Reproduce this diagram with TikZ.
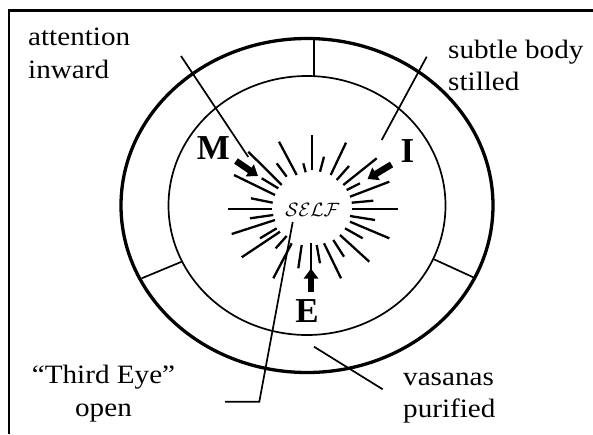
\documentclass[tikz,border=0pt]{standalone}
\usepackage{fontspec}
\setmainfont{Liberation Serif}
\usetikzlibrary{arrows.meta}
\newcommand\wide[1]{\scalebox{1.1}[1]{#1}}
\begin{document}
\begin{tikzpicture}[x=1pt,y=-1pt,
  lbl/.style={inner sep=0pt, anchor=base west, font=\fontsize{26.5}{32}\selectfont},
  big/.style={inner sep=0pt, font=\fontsize{35}{40}\selectfont\bfseries},
  ray/.style={line width=2.3pt},
  leader/.style={line width=1.7pt},
  thin/.style={line width=1.7pt},
  fat/.style={line width=6.5pt, -{Triangle[width=14pt,length=10pt]}},
]
\useasboundingbox (0,0) rectangle (593,434);
% frame
\draw[line width=2.6pt] (9,434) -- (9,10.5) -- (593,10.5);
% ellipses
\coordinate (c) at (307,205.5);
\draw[line width=3.3pt] (c) ellipse [x radius=186pt, y radius=167pt];
\draw[thin] (c) ellipse [x radius=138.5pt, y radius=129.5pt];
% dividers
\draw[thin] (314,38.5) -- (314,76);
\draw[thin] (141.7,278.3) -- (181.7,261.7);
\draw[thin] (434,259.3) -- (473.3,277.3);
% rays
\foreach \a/\b/\c/\d in {
 312.3/135/312.3/170, 303.3/163.3/305.7/172.3, 324/156.7/320/171.7,
 346/142.7/330.7/175, 349/166/336.7/180, 376.7/158.3/343.3/185,
 360/183.3/346.7/190, 389.3/181.7/350/196.7, 373.3/200.7/351.7/202.7,
 398.3/209/351.7/209, 375/220/350/216, 389.3/238.3/350/221.7,
 362.7/238.3/345/228.3, 369.3/261.7/340/235, 344/256.7/333.3/240,
 341/278.3/324/243.3, 320/263.3/316.7/245, 310.7/270/310.7/243.3,
 298.3/268.3/301.7/245, 273.3/278.3/291.7/243.3, 275.7/248.3/286.7/236,
 241.7/257.3/280/231.7, 260/238.3/276.7/228.3, 231.7/234/275/220,
 250/218.3/273.3/215, 228.3/209/271.7/209, 251/198.3/272.7/202.7,
 234/175/275/195, 261.7/178.3/278.3/188.3, 248.3/151.7/281.7/185,
 276.7/163.3/286.7/176.7, 279/141.7/296.7/175}
 \draw[ray] (\a,\b) -- (\c,\d);
% centre text
\node[inner sep=0pt] (self) at (312.5,209.5) {\scalebox{0.93}{\fontsize{20.74}{22}\selectfont$\mathcal{SELF}$}};
% letters
\node[big] (M) at (213.5,148.5) {M};
\node[big] (I) at (407.5,151.5) {I};
\node[big] (E) at (307,311) {E};
% fat arrows
\coordinate (mA) at (236,161); \coordinate (mB) at (258,176);
\coordinate (iA) at (391.5,164.5); \coordinate (iB) at (367.5,179);
\coordinate (eA) at (311,292); \coordinate (eB) at (311,268.5);
\draw[fat] (mA) -- (mB);
\draw[fat] (iA) -- (iB);
\draw[fat] (eA) -- (eB);
% labels
\node[lbl] (att1) at (28,45) {\wide{attention}};
\node[lbl] (att2) at (28,78) {\wide{inward}};
\node[lbl] (sub1) at (448,58) {\wide{subtle body}};
\node[lbl] (sub2) at (448,90.5) {\wide{stilled}};
\node[lbl, anchor=base] (te1) at (103.5,383) {\wide{“Third Eye”}};
\node[lbl, anchor=base] (te2) at (103.5,416) {\wide{open}};
\node[lbl] (vas1) at (403,385) {\wide{vasanas}};
\node[lbl] (vas2) at (403,417) {\wide{purified}};
% leader lines
\coordinate (attS) at (181,56); \coordinate (attE) at (248.3,157);
\coordinate (subS) at (426.7,56.7); \coordinate (subE) at (381.7,140);
\coordinate (teS) at (292.7,222); \coordinate (teK) at (259.3,401.7); \coordinate (teE) at (225,401.7);
\coordinate (vasS) at (314,346.7); \coordinate (vasE) at (382.7,389.3);
\draw[leader] (attS) -- (attE);
\draw[leader] (subS) -- (subE);
\draw[leader] (teS) -- (teK) -- (teE);
\draw[leader] (vasS) -- (vasE);
\end{tikzpicture}
\end{document}
